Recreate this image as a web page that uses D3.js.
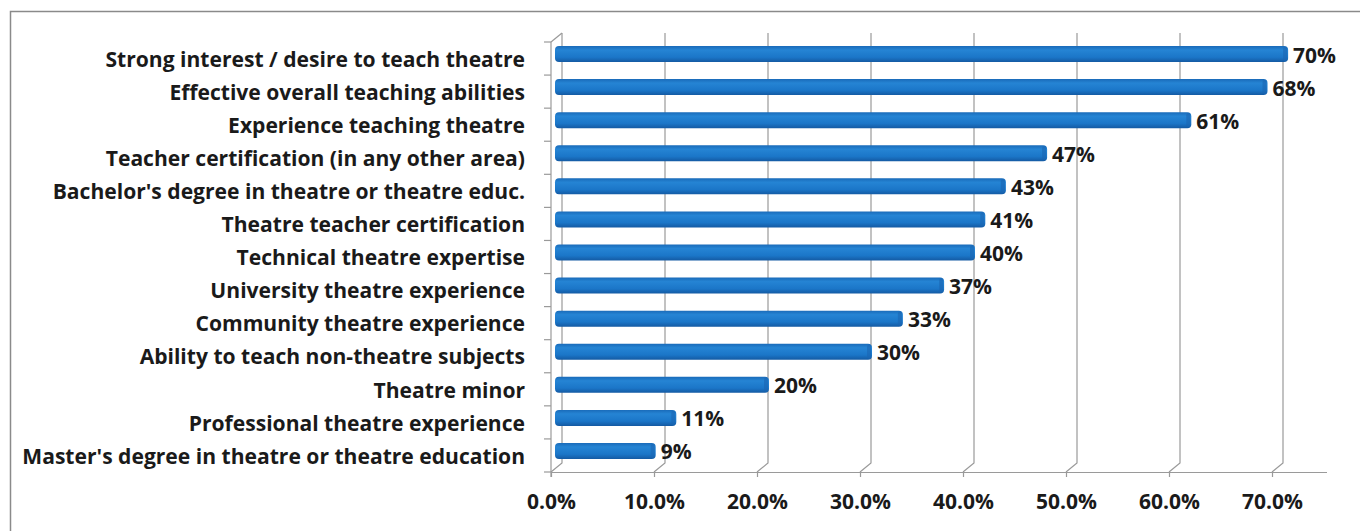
<!DOCTYPE html>
<html><head><meta charset="utf-8">
<script src="https://cdn.jsdelivr.net/npm/d3@7"></script>
<style>
html,body{margin:0;padding:0;background:#fff;}
svg{display:block;}
text{font-family:"Open Sans","Noto Sans",sans-serif;font-weight:bold;fill:#1a1a1a;}
</style></head>
<body>
<svg id="c" width="1360" height="531"></svg>
<script>
const categories = [
  "Strong interest / desire to teach theatre",
  "Effective overall teaching abilities",
  "Experience teaching theatre",
  "Teacher certification (in any other area)",
  "Bachelor's degree in theatre or theatre educ.",
  "Theatre teacher certification",
  "Technical theatre expertise",
  "University theatre experience",
  "Community theatre experience",
  "Ability to teach non-theatre subjects",
  "Theatre minor",
  "Professional theatre experience",
  "Master's degree in theatre or theatre education"
];
const values = [0.704, 0.684, 0.61, 0.47, 0.43, 0.41, 0.40, 0.37, 0.33, 0.30, 0.20, 0.11, 0.09];
const valueLabels = ["70%","68%","61%","47%","43%","41%","40%","37%","33%","30%","20%","11%","9%"];
const xTicks = [0, 0.1, 0.2, 0.3, 0.4, 0.5, 0.6, 0.7];

const svg = d3.select("#c");
const FONT = '"Open Sans","Noto Sans",sans-serif';
const dx = 11, dy = -9;
const x = d3.scaleLinear().domain([0, 0.75]).range([551, 1323.5]);
const y = d3.scaleBand().domain(categories).range([42, 472]).paddingInner(0);
const bw = y.bandwidth();

// frame
svg.append("path").attr("d","M10.5,540 V11.5 H1370").attr("fill","none").attr("stroke","#8a8a8a").attr("stroke-width",1.5);

const defs = svg.append("defs");
const g = defs.append("linearGradient").attr("id","barg").attr("x1",0).attr("x2",0).attr("y1",0).attr("y2",1);
g.append("stop").attr("offset","0%").attr("stop-color","#1a6bb9");
g.append("stop").attr("offset","25%").attr("stop-color","#2584d4");
g.append("stop").attr("offset","70%").attr("stop-color","#1b76c8");
g.append("stop").attr("offset","100%").attr("stop-color","#145aa3");

const grid = svg.append("g").attr("stroke","#9a9a9a").attr("stroke-width",1.2).attr("fill","none");
xTicks.forEach(t => {
  const xf = x(t), xb = x(t) + dx;
  const yb0 = y.range()[0] + dy, yb1 = y.range()[1] + dy;
  grid.append("path").attr("d", `M${xb},${yb0} V${yb1} L${xf},${y.range()[1]}`);
});
grid.append("path").attr("d", `M${x(0)},${y.range()[0]} L${x(0)+dx},${y.range()[0]+dy}`);
grid.append("path").attr("d", `M${x(0)},${y.range()[0]} V${y.range()[1]+5}`);
const bounds = categories.map(c => y(c)).concat([y.range()[1]]);
bounds.forEach(b => grid.append("path").attr("d", `M${x(0)-7},${b} H${x(0)}`));

// bottom axis
const xAxis = d3.axisBottom(x).tickValues(xTicks).tickFormat(d3.format(".1%")).tickSize(5).tickPadding(17);
const ax = svg.append("g").attr("transform", `translate(0,${y.range()[1]})`).call(xAxis);
ax.select(".domain").attr("stroke","#9a9a9a").attr("stroke-width",1.2).attr("d", `M${x(0)},0.5 H1327`);
ax.selectAll(".tick line").attr("stroke","#9a9a9a").attr("stroke-width",1.2);
ax.selectAll(".tick text").attr("font-size","21px").attr("font-family",FONT).attr("font-weight","bold").attr("fill","#1a1a1a");

// left axis labels
const yAxis = d3.axisLeft(y).tickSize(0).tickPadding(26);
const ay = svg.append("g").attr("transform", `translate(${x(0)},1.5)`).call(yAxis);
ay.select(".domain").remove();
const lbl = ay.selectAll(".tick text").attr("font-size","19px").attr("font-family",FONT).attr("font-weight","bold").attr("fill","#1a1a1a");
const w0 = lbl.nodes()[0].getComputedTextLength();
const fs = Math.max(14, Math.min(24, 19 * 420 / w0));
lbl.attr("font-size", fs + "px");

// bars
const bh = 16;
const bars = svg.append("g");
categories.forEach((c, i) => {
  const cy = y(c) + bw/2 - 4.5;
  const x0 = x(0) + 4, x1 = x(values[i]) + dx + 1;
  bars.append("rect").attr("x", x0).attr("y", cy - bh/2).attr("width", x1 - x0).attr("height", bh)
    .attr("rx", 4).attr("ry", 4).attr("fill", "url(#barg)");
  bars.append("rect").attr("x", x1 - 5).attr("y", cy - bh/2 + 1).attr("width", 4).attr("height", bh - 2)
    .attr("rx", 2).attr("fill", "#1a66b3").attr("opacity", 0.6);
  svg.append("text").attr("x", x1 + 5).attr("y", cy + 8.5).attr("font-size","21px").attr("font-family",FONT).text(valueLabels[i]);
});
</script>
</body></html>
